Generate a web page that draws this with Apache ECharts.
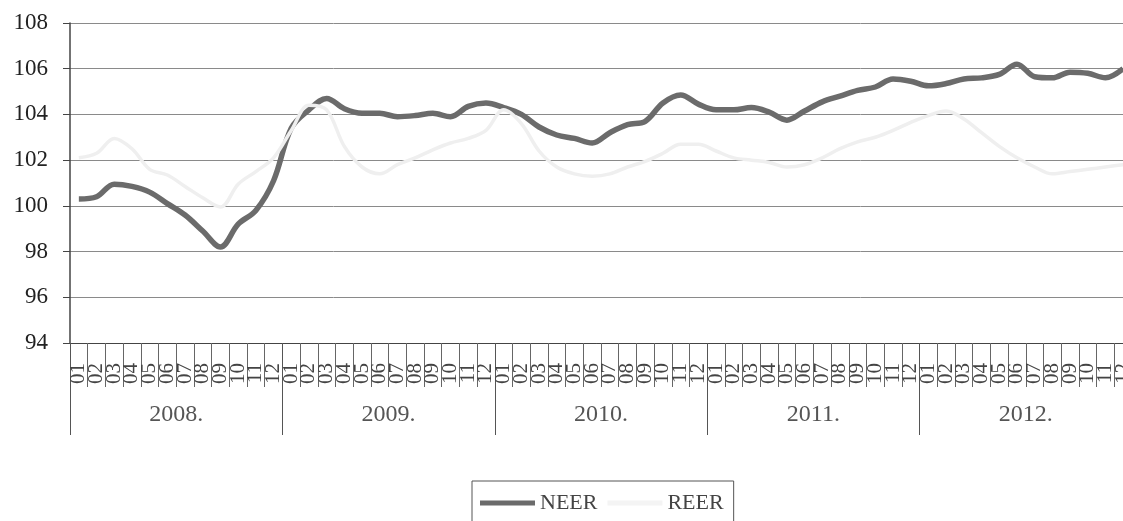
<!DOCTYPE html>
<html>
<head>
<meta charset="utf-8">
<script src="https://cdn.jsdelivr.net/npm/echarts@6/dist/echarts.min.js"></script>
<style>
html,body{margin:0;padding:0;background:#fff;}
#c{width:1123px;height:521px;}
</style>
</head>
<body>
<div id="c"></div>
<script>
const years = ['2008.', '2009.', '2010.', '2011.', '2012.'];
const monthLabels = ['01','02','03','04','05','06','07','08','09','10','11','12'];
const neer = [
  100.3, 100.4, 100.95, 100.85, 100.6, 100.1, 99.6, 98.9, 98.2, 99.2, 99.8, 101.1,
  103.4, 104.2, 104.7, 104.25, 104.05, 104.05, 103.9, 103.95, 104.05, 103.9, 104.35, 104.5,
  104.3, 104.0, 103.45, 103.1, 102.95, 102.75, 103.2, 103.55, 103.7, 104.5, 104.85, 104.45,
  104.2, 104.2, 104.3, 104.1, 103.75, 104.15, 104.55, 104.8, 105.05, 105.2, 105.55, 105.45,
  105.25, 105.35, 105.55, 105.6, 105.75, 106.2, 105.65, 105.6, 105.85, 105.8, 105.6, 106.0
];
const reer = [
  102.1, 102.3, 102.95, 102.5, 101.6, 101.35, 100.85, 100.35, 99.95, 100.95, 101.5, 102.1,
  103.3, 104.4, 104.2, 102.6, 101.7, 101.4, 101.8, 102.1, 102.45, 102.75, 102.95, 103.3,
  104.2, 103.6, 102.4, 101.7, 101.4, 101.3, 101.4, 101.7, 101.95, 102.3, 102.7, 102.7,
  102.4, 102.1, 102.0, 101.9, 101.7, 101.8, 102.1, 102.5, 102.8, 103.0, 103.3, 103.65,
  103.95, 104.15, 103.8, 103.2, 102.6, 102.1, 101.7, 101.4, 101.5, 101.6, 101.7, 101.8
];
const yTicks = {min: 94, max: 108, interval: 2};

const months = [];
years.forEach(y => monthLabels.forEach(m => months.push(y + m)));

const serif = '"Liberation Serif", "DejaVu Serif", serif';
const chart = echarts.init(document.getElementById('c'), null, {renderer: 'canvas'});
chart.setOption({
  animation: false,
  backgroundColor: '#ffffff',
  grid: {left: 70, top: 23, width: 1062, height: 320, containLabel: false, outerBoundsMode: 'none'},
  legend: {
    left: 472, top: 481,
    padding: [11, 10, 40, 8],
    borderColor: '#555', borderWidth: 1,
    itemWidth: 55, itemHeight: 5, itemGap: 10,
    textStyle: {fontFamily: serif, fontSize: 22, color: '#444'},
    data: [
      {name: 'NEER', icon: 'rect', itemStyle: {color: '#6b6b6b'}},
      {name: 'REER', icon: 'rect', itemStyle: {color: '#f4f4f4'}}
    ]
  },
  xAxis: [
    {
      type: 'category', data: months, position: 'bottom', offset: 0, boundaryGap: true,
      axisLine: {show: true, lineStyle: {color: '#444', width: 1}},
      axisTick: {show: true, interval: 0, length: 44, lineStyle: {color: '#666'}},
      axisLabel: {
        interval: 0, rotate: 90, margin: 20,
        fontFamily: serif, fontSize: 21, color: '#444',
        formatter: v => v.slice(-2)
      },
      splitLine: {show: false}
    },
    {
      type: 'category', data: years, position: 'bottom', offset: 0, boundaryGap: true,
      axisLine: {show: false},
      axisTick: {show: true, interval: 0, length: 92, lineStyle: {color: '#555'}},
      axisLabel: {interval: 0, margin: 60, fontFamily: serif, fontSize: 24, color: '#555'},
      splitLine: {show: false}
    }
  ],
  yAxis: {
    type: 'value', min: yTicks.min, max: yTicks.max, interval: yTicks.interval,
    axisLine: {show: true, lineStyle: {color: '#444', width: 1.5}},
    axisTick: {show: true, length: 7, lineStyle: {color: '#444'}},
    axisLabel: {margin: 22, fontFamily: serif, fontSize: 23, color: '#222'},
    splitLine: {show: true, lineStyle: {color: '#8a8a8a', width: 1}}
  },
  series: [
    {
      name: 'NEER', type: 'line', xAxisIndex: 0, data: neer,
      smooth: 0.35, showSymbol: false, symbol: 'none',
      lineStyle: {color: '#6b6b6b', width: 5.5},
      itemStyle: {color: '#6b6b6b'}
    },
    {
      name: 'REER', type: 'line', xAxisIndex: 0, data: reer,
      smooth: 0.35, showSymbol: false, symbol: 'none',
      lineStyle: {color: '#efefef', width: 3.5},
      itemStyle: {color: '#f4f4f4'}
    }
  ]
});
</script>
</body>
</html>
